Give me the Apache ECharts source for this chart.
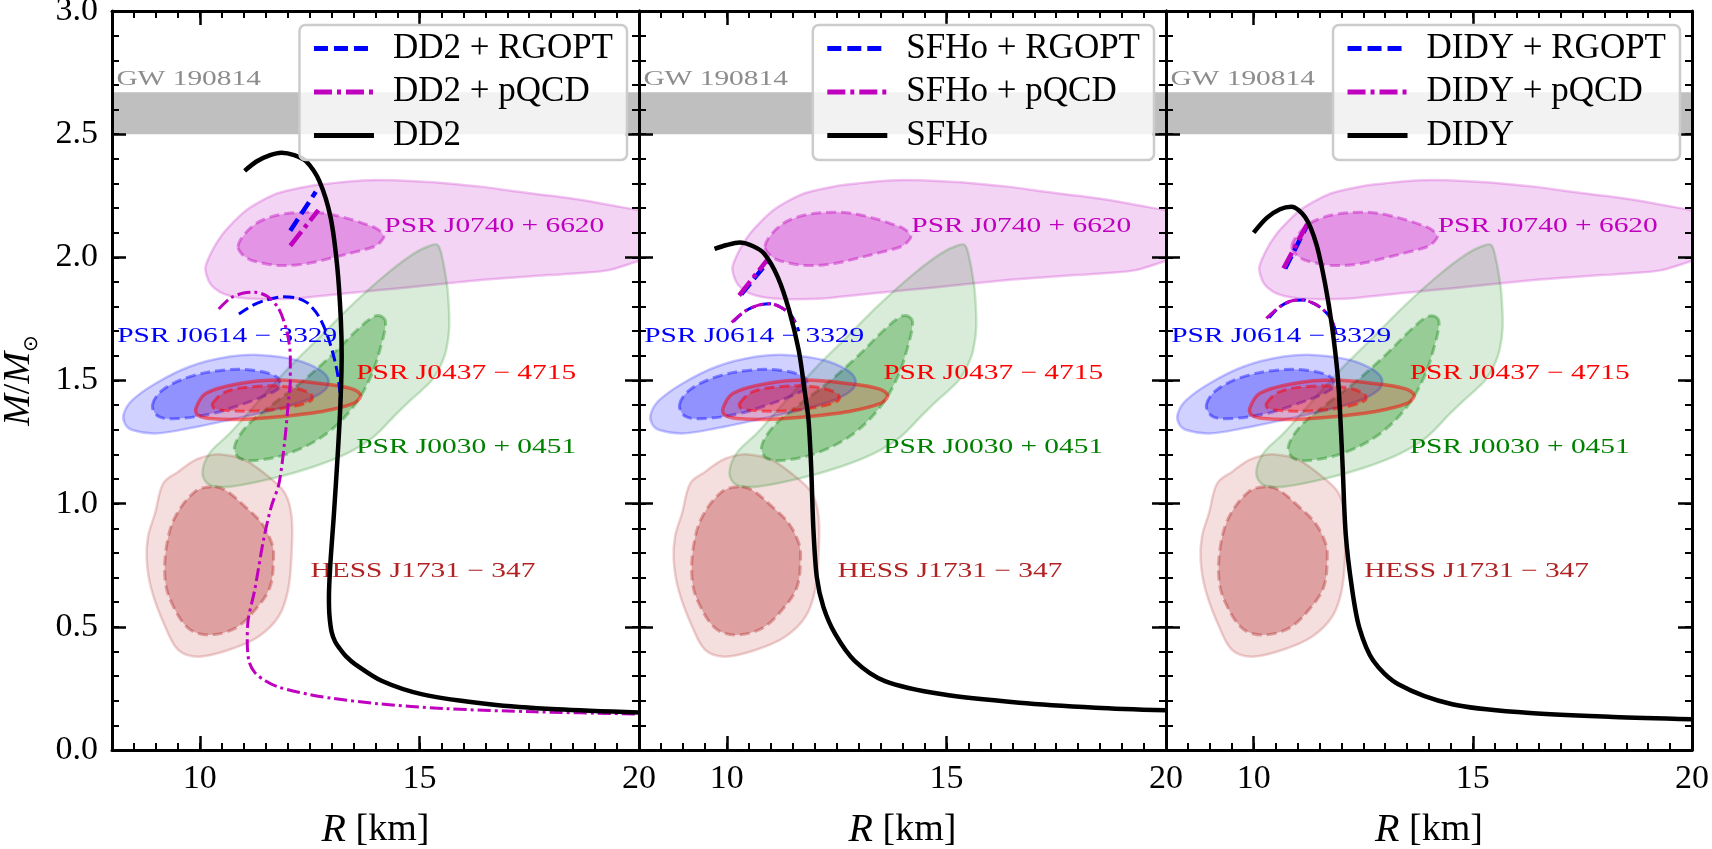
<!DOCTYPE html>
<html>
<head>
<meta charset="utf-8">
<script src="https://cdn.jsdelivr.net/npm/echarts@6/dist/echarts.min.js"></script>
<style>
  html, body { margin: 0; padding: 0; background: #fff; }
  #chart { width: 1712px; height: 849px; }
</style>
</head>
<body>
<div id="chart"></div>
<script>
// model names (one panel each)
const models = ['DD2', 'SFHo', 'DIDY']

// axis ticks
const xMajor = [10, 15, 20]
const yMajor = [0, 0.5, 1.0, 1.5, 2.0, 2.5, 3.0]

// GW 190814 mass band
const gwBand = [2.50, 2.67]

// mass-radius curves [R km, M/Msun]
const dd2 = [[11.02, 2.351], [11.3, 2.39], [11.6, 2.415], [11.86, 2.425], [12.15, 2.415], [12.42, 2.39], [12.72, 2.31], [12.98, 2.16], [13.13, 1.96], [13.21, 1.75], [13.23, 1.6], [13.2, 1.4], [13.14, 1.2], [13.05, 0.95], [12.97, 0.75], [12.94, 0.62], [12.95, 0.55], [13.0, 0.48], [13.08, 0.44], [13.18, 0.413], [13.33, 0.38], [13.54, 0.348], [14.15, 0.28], [15.07, 0.226], [16.6, 0.186], [18.13, 0.165], [20.0, 0.152]]
const dd2RgoptUp = [[12.06, 2.108], [12.64, 2.266]]
const dd2RgoptLow = [[10.89, 1.77], [11.2, 1.805], [11.5, 1.826], [11.9, 1.84], [12.2, 1.835], [12.45, 1.815], [12.72, 1.757], [12.93, 1.67], [13.1, 1.56], [13.18, 1.47], [13.2, 1.40]]
const dd2PqcdUp = [[12.06, 2.047], [12.70, 2.192]]
const dd2PqcdLow = [[10.43, 1.79], [10.7, 1.835], [11.0, 1.855], [11.25, 1.858], [11.55, 1.84], [11.8, 1.79], [11.98, 1.70], [12.06, 1.60], [12.06, 1.50], [12.02, 1.42], [11.93, 1.25], [11.8, 1.08], [11.63, 0.99], [11.45, 0.853], [11.25, 0.65], [11.10, 0.528], [11.08, 0.44], [11.12, 0.36], [11.25, 0.315], [11.5, 0.28], [11.8, 0.255], [12.5, 0.225], [13.0, 0.21], [14.05, 0.188], [15.58, 0.168], [17.62, 0.155], [20.0, 0.146]]

const sfho = [[9.72, 2.034], [10.0, 2.05], [10.29, 2.06], [10.6, 2.045], [10.85, 2.015], [11.16, 1.92], [11.42, 1.784], [11.64, 1.62], [11.77, 1.46], [11.86, 1.34], [11.92, 1.15], [11.97, 0.9], [12.05, 0.7], [12.2, 0.58], [12.47, 0.47], [12.91, 0.362], [13.6, 0.28], [14.91, 0.226], [16.66, 0.192], [18.4, 0.172], [20.0, 0.161]]
const sfhoRgoptUp = [[10.33, 1.85], [10.95, 1.985]]
const sfhoRgoptLow = [[10.15, 1.74], [10.4, 1.78], [10.7, 1.805], [11.0, 1.812], [11.25, 1.795], [11.44, 1.77], [11.55, 1.74], [11.64, 1.70]]
const sfhoPqcdUp = [[10.28, 1.845], [10.92, 1.99]]
const sfhoPqcdLow = [[10.11, 1.736], [10.4, 1.78], [10.7, 1.805], [11.0, 1.812], [11.25, 1.795], [11.44, 1.77], [11.55, 1.735]]

const didy = [[10.0, 2.10], [10.3, 2.16], [10.6, 2.195], [10.86, 2.205], [11.18, 2.162], [11.43, 2.054], [11.63, 1.892], [11.79, 1.716], [11.92, 1.514], [11.98, 1.338], [12.03, 1.15], [12.1, 0.877], [12.24, 0.66], [12.41, 0.497], [12.73, 0.362], [13.3, 0.267], [14.53, 0.186], [16.16, 0.152], [18.2, 0.134], [20.0, 0.125]]
const didyRgoptUp = [[10.72, 1.955], [11.22, 2.13]]
const didyRgoptLow = [[10.35, 1.755], [10.6, 1.80], [10.9, 1.825], [11.13, 1.827], [11.4, 1.81], [11.6, 1.785], [11.78, 1.746], [11.92, 1.665]]
const didyPqcdUp = [[10.68, 1.955], [11.25, 2.145]]
const didyPqcdLow = [[10.29, 1.752], [10.6, 1.80], [10.9, 1.825], [11.13, 1.827], [11.4, 1.81], [11.6, 1.785], [11.78, 1.746], [11.86, 1.69]]

// observational contours [R km, M/Msun]
const j0740Outer = [[10.13, 1.962], [10.29, 2.03], [10.5, 2.09], [10.75, 2.14], [11.05, 2.19], [11.36, 2.225], [11.7, 2.255], [11.98, 2.27], [12.5, 2.29], [12.97, 2.30], [13.54, 2.31], [14.12, 2.314], [15.0, 2.308], [15.65, 2.30], [16.5, 2.285], [17.17, 2.268], [18.0, 2.25], [18.7, 2.233], [19.4, 2.21], [20.0, 2.19], [20.5, 2.16], [20.5, 2.0], [20.0, 1.985], [19.77, 1.972], [19.31, 1.948], [18.6, 1.935], [17.94, 1.928], [17.17, 1.918], [16.41, 1.908], [15.65, 1.895], [14.88, 1.881], [14.1, 1.867], [13.35, 1.854], [12.7, 1.842], [12.2, 1.833], [11.6, 1.83], [11.06, 1.833], [10.7, 1.843], [10.45, 1.86], [10.25, 1.89], [10.15, 1.93]]
const j0740Inner = [[10.87, 2.043], [11.0, 2.09], [11.29, 2.138], [11.6, 2.163], [11.98, 2.178], [12.4, 2.183], [12.74, 2.181], [13.1, 2.17], [13.5, 2.151], [13.8, 2.133], [14.04, 2.115], [14.19, 2.086], [14.1, 2.06], [13.96, 2.043], [13.5, 2.02], [12.97, 1.996], [12.6, 1.98], [12.2, 1.969], [11.8, 1.967], [11.44, 1.976], [11.15, 1.99], [10.98, 2.009]]
const j0030Outer = [[15.42, 2.05], [15.53, 1.989], [15.6, 1.92], [15.65, 1.854], [15.68, 1.718], [15.61, 1.624], [15.48, 1.56], [15.3, 1.505], [15.05, 1.46], [14.8, 1.42], [14.45, 1.36], [13.96, 1.272], [13.35, 1.204], [12.59, 1.15], [11.67, 1.103], [10.68, 1.069], [10.22, 1.076], [10.06, 1.123], [10.22, 1.204], [10.68, 1.285], [11.29, 1.407], [11.98, 1.543], [12.74, 1.678], [13.50, 1.813], [14.27, 1.935], [14.88, 2.016], [15.22, 2.046]]
const j0030Inner = [[14.15, 1.759], [14.23, 1.732], [14.12, 1.637], [13.89, 1.515], [13.50, 1.394], [12.89, 1.285], [12.13, 1.211], [11.36, 1.177], [10.91, 1.184], [10.79, 1.231], [11.06, 1.313], [11.59, 1.394], [12.28, 1.488], [12.97, 1.597], [13.58, 1.705], [13.96, 1.759]]
const j0614Outer = [[8.27, 1.366], [8.46, 1.42], [8.99, 1.488], [9.76, 1.556], [10.68, 1.597], [11.44, 1.603], [12.2, 1.583], [12.74, 1.542], [12.93, 1.502], [12.85, 1.462], [12.43, 1.42], [11.67, 1.38], [10.68, 1.340], [9.76, 1.306], [8.99, 1.285], [8.46, 1.299], [8.29, 1.326]]
const j0614Inner = [[8.92, 1.40], [9.15, 1.461], [9.76, 1.515], [10.52, 1.542], [11.21, 1.542], [11.75, 1.515], [11.82, 1.475], [11.52, 1.441], [10.91, 1.40], [10.29, 1.366], [9.53, 1.346], [9.07, 1.353]]
const j0437Outer = [[9.91, 1.387], [10.14, 1.448], [10.91, 1.488], [11.82, 1.502], [12.74, 1.488], [13.43, 1.468], [13.66, 1.441], [13.50, 1.407], [12.74, 1.373], [11.82, 1.353], [10.91, 1.342], [10.22, 1.346], [9.95, 1.36]]
const j0437Inner = [[10.29, 1.407], [10.60, 1.455], [11.21, 1.475], [11.98, 1.475], [12.51, 1.448], [12.55, 1.421], [12.13, 1.394], [11.36, 1.377], [10.68, 1.377], [10.33, 1.387]]
const hessOuter = [[10.27, 1.198], [9.89, 1.177], [9.51, 1.13], [9.17, 1.083], [8.98, 0.961], [8.82, 0.866], [8.79, 0.771], [8.90, 0.650], [9.21, 0.501], [9.51, 0.406], [9.96, 0.379], [10.65, 0.406], [11.33, 0.460], [11.79, 0.541], [12.01, 0.650], [12.09, 0.799], [12.09, 0.947], [11.94, 1.042], [11.56, 1.110], [11.03, 1.177], [10.57, 1.198]]
const hessInner = [[10.27, 1.069], [9.89, 1.049], [9.44, 0.947], [9.24, 0.826], [9.21, 0.690], [9.36, 0.596], [9.74, 0.494], [10.19, 0.467], [10.80, 0.494], [11.26, 0.569], [11.60, 0.663], [11.68, 0.785], [11.64, 0.839], [11.41, 0.920], [11.03, 0.988], [10.57, 1.056]]

// text annotations [R, M, text]
const notes = [
  [8.1, 2.724, 'GW 190814'],
  [14.2, 2.125, 'PSR J0740 + 6620'],
  [8.12, 1.677, 'PSR J0614 \u2212 3329'],
  [13.56, 1.528, 'PSR J0437 \u2212 4715'],
  [13.56, 1.228, 'PSR J0030 + 0451'],
  [12.52, 0.725, 'HESS J1731 \u2212 347']
]
const noteColors = ['#8c8c8c', '#bf00bf', '#0000ff', '#ff0000', '#008000', '#b22222']

const curves = [
  [dd2, dd2RgoptUp, dd2RgoptLow, dd2PqcdUp, dd2PqcdLow],
  [sfho, sfhoRgoptUp, sfhoRgoptLow, sfhoPqcdUp, sfhoPqcdLow],
  [didy, didyRgoptUp, didyRgoptLow, didyPqcdUp, didyPqcdLow]
]

const serif = '"Liberation Serif", "DejaVu Serif", serif'
const gridLeft = [112, 639, 1166]
const gridWidth = [527, 527, 526]

function rgba(c, a) {
  return 'rgba(' + c + ',' + a + ')'
}

function contour(g, pts, c, fillA, strokeA, lw, dash) {
  return {
    type: 'custom',
    xAxisIndex: 4 * g,
    yAxisIndex: 4 * g,
    clip: true,
    silent: true,
    data: pts,
    renderItem: function (params, api) {
      if (params.dataIndex !== 0) return null
      return {
        type: 'polygon',
        shape: { points: pts.map(p => api.coord(p)), smooth: 0.35 },
        style: { fill: rgba(c, fillA), stroke: rgba(c, strokeA), lineWidth: lw, lineDash: dash || null }
      }
    }
  }
}

function curve(g, name, pts, color, lw, dash) {
  return {
    type: 'line',
    name: name,
    xAxisIndex: 4 * g,
    yAxisIndex: 4 * g,
    data: pts,
    symbol: 'none',
    smooth: 0.3,
    silent: true,
    lineStyle: { color: color, width: lw, type: dash || 'solid' },
    itemStyle: { color: color }
  }
}

const grid = []
const xAxis = []
const yAxis = []
const legend = []
const series = []

models.forEach(function (m, g) {
  grid.push({ left: gridLeft[g], top: 11, width: gridWidth[g], height: 739, containLabel: false, outerBoundsMode: 'none' })

  const lineOn = { show: true, onZero: false, lineStyle: { color: '#000', width: 3 } }
  const lineOff = { show: false, onZero: false }
  const minorX = { type: 'value', gridIndex: g, min: 8, max: 20, interval: 0.5, z: 10, splitLine: { show: false }, axisLabel: { show: false },
    axisTick: { show: true, inside: true, length: 7, lineStyle: { color: '#000', width: 2 } } }
  const majorX = { type: 'value', gridIndex: g, min: 8, max: 20, z: 10, splitLine: { show: false }, axisLine: lineOff,
    axisTick: { show: true, inside: true, length: 14, customValues: xMajor, lineStyle: { color: '#000', width: 2.5 } } }
  xAxis.push(Object.assign({}, minorX, { position: 'bottom', axisLine: lineOn,
    name: '{i|R}{n| [km]}', nameLocation: 'middle', nameGap: 60,
    nameTextStyle: { rich: { i: { fontFamily: serif, fontStyle: 'italic', fontSize: 40, color: '#000' }, n: { fontFamily: serif, fontSize: 38, color: '#000' } } } }))
  xAxis.push(Object.assign({}, majorX, { position: 'bottom',
    axisLabel: { show: true, customValues: xMajor, margin: 12, fontFamily: serif, fontSize: 34, color: '#000' } }))
  xAxis.push(Object.assign({}, minorX, { position: 'top', axisLine: lineOn }))
  xAxis.push(Object.assign({}, majorX, { position: 'top', axisLabel: { show: false } }))

  const minorY = { type: 'value', gridIndex: g, min: 0, max: 3, interval: 0.1, z: 10, splitLine: { show: false }, axisLabel: { show: false },
    axisTick: { show: true, inside: true, length: 7, lineStyle: { color: '#000', width: 2 } } }
  const majorY = { type: 'value', gridIndex: g, min: 0, max: 3, z: 10, splitLine: { show: false }, axisLine: lineOff,
    axisTick: { show: true, inside: true, length: 14, customValues: yMajor, lineStyle: { color: '#000', width: 2.5 } } }
  const yLeft = Object.assign({}, minorY, { position: 'left', axisLine: lineOn })
  if (g === 0) {
    Object.assign(yLeft, {
      name: '{i|M}{n|/}{i|M}{s|\u2299}', nameLocation: 'middle', nameGap: 70, nameRotate: 90,
      nameTextStyle: { rich: {
        i: { fontFamily: serif, fontStyle: 'italic', fontSize: 38, lineHeight: 46, color: '#000' },
        n: { fontFamily: serif, fontSize: 38, lineHeight: 46, color: '#000' },
        s: { fontFamily: '"DejaVu Sans", sans-serif', fontSize: 20, lineHeight: 20, verticalAlign: 'bottom', color: '#000' }
      } }
    })
  }
  yAxis.push(yLeft)
  yAxis.push(Object.assign({}, majorY, { position: 'left',
    axisLabel: { show: g === 0, customValues: yMajor, margin: 14, fontFamily: serif, fontSize: 34, color: '#000',
      formatter: v => v.toFixed(1) } }))
  yAxis.push(Object.assign({}, minorY, { position: 'right', axisLine: lineOn }))
  yAxis.push(Object.assign({}, majorY, { position: 'right', axisLabel: { show: false } }))

  legend.push({
    data: [m + ' + RGOPT', m + ' + pQCD', m],
    orient: 'vertical',
    right: 1712 - (gridLeft[g] + gridWidth[g]) + 12,
    top: 25,
    itemWidth: 60,
    itemHeight: 12,
    itemGap: 8.5,
    padding: [6, 14, 7, 12],
    selectedMode: false,
    backgroundColor: 'rgba(255,255,255,0.8)',
    borderColor: '#cccccc',
    borderWidth: 2.5,
    borderRadius: 6,
    z: 20,
    itemStyle: { opacity: 0 },
    lineStyle: { width: 5 },
    textStyle: { fontFamily: serif, fontSize: 35, lineHeight: 34, color: '#000', padding: [0, 0, 0, 14] }
  })

  // GW band
  series.push({
    type: 'custom', xAxisIndex: 4 * g, yAxisIndex: 4 * g, silent: true, clip: true,
    data: [gwBand],
    renderItem: function (params, api) {
      const a = api.coord([8, gwBand[1]])
      const b = api.coord([20, gwBand[0]])
      return { type: 'rect', shape: { x: a[0], y: a[1], width: b[0] - a[0], height: b[1] - a[1] }, style: { fill: '#bfbfbf' } }
    }
  })

  // contours
  series.push(contour(g, hessOuter, '178,34,34', 0.15, 0.2, 2.5))
  series.push(contour(g, hessInner, '178,34,34', 0.33, 0.35, 3, [10, 5]))
  series.push(contour(g, j0740Outer, '191,0,191', 0.17, 0.22, 2.5))
  series.push(contour(g, j0740Inner, '191,0,191', 0.3, 0.4, 3, [10, 5]))
  series.push(contour(g, j0030Outer, '0,128,0', 0.15, 0.2, 2.5))
  series.push(contour(g, j0030Inner, '0,128,0', 0.3, 0.35, 3, [10, 5]))
  series.push(contour(g, j0614Outer, '0,0,255', 0.18, 0.22, 2.5))
  series.push(contour(g, j0614Inner, '0,0,255', 0.3, 0.4, 3, [10, 5]))
  series.push(contour(g, j0437Outer, '255,0,0', 0.18, 0.5, 3.5))
  series.push(contour(g, j0437Inner, '255,0,0', 0.3, 0.5, 3, [10, 5]))

  // annotations
  series.push({
    type: 'custom', xAxisIndex: 4 * g, yAxisIndex: 4 * g, silent: true, clip: false,
    data: notes.map(n => [n[0], n[1]]),
    renderItem: function (params, api) {
      const n = notes[params.dataIndex]
      const p = api.coord([n[0], n[1]])
      return {
        type: 'text', x: p[0], y: p[1], scaleX: 1.4,
        style: { text: n[2], fill: noteColors[params.dataIndex], font: '21px ' + serif, align: 'left', verticalAlign: 'middle' }
      }
    }
  })

  const c = curves[g]
  series.push(curve(g, m + ' + RGOPT', c[1], '#0000ff', 4.5, [14, 6]))
  series.push(curve(g, m + ' + RGOPT', c[2], '#0000ff', 3, [11, 5]))
  series.push(curve(g, m + ' + pQCD', c[3], '#bf00bf', 4.5, [18, 5, 4, 5]))
  series.push(curve(g, m + ' + pQCD', c[4], '#bf00bf', 3, [13, 4, 3, 4]))
  series.push(curve(g, m, c[0], '#000000', 4.5))
})

const chart = echarts.init(document.getElementById('chart'), null, { renderer: 'canvas' })
chart.setOption({
  animation: false,
  backgroundColor: '#ffffff',
  grid: grid,
  xAxis: xAxis,
  yAxis: yAxis,
  legend: legend,
  series: series
})
</script>
</body>
</html>
